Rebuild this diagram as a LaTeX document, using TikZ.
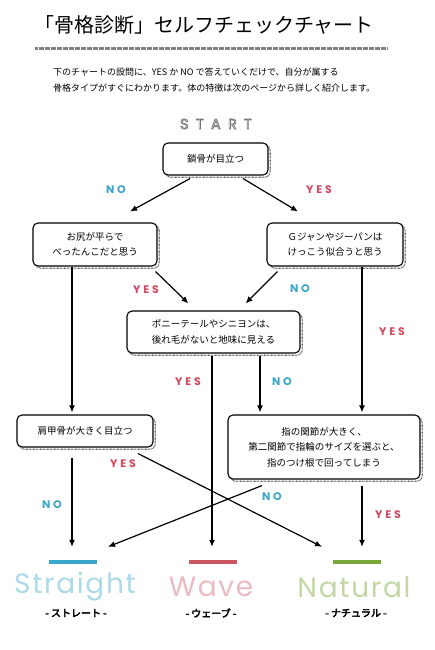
\documentclass[tikz,border=0pt]{standalone}
\usepackage{fontspec}
\setmainfont{Noto Sans CJK JP}
\newfontfamily\jpb{Noto Sans CJK JP}[FakeBold=4]
\newfontfamily\labf{Poppins}[LetterSpace=25]
\newfontfamily\startf{Poppins}[LetterSpace=50]
\newfontfamily\resf{Poppins}[LetterSpace=6]
\usetikzlibrary{arrows.meta,calc,shadows}
\definecolor{noblue}{HTML}{3AA5C5}
\definecolor{yesred}{HTML}{D04A5E}
\definecolor{barblue}{HTML}{3AA6C9}
\definecolor{barred}{HTML}{CC5563}
\definecolor{bargreen}{HTML}{79A638}
\newcommand\hollowtext[1]{\special{pdf:literal direct 1 Tr 0.7 w 0.45 G}#1\special{pdf:literal direct 0 Tr}}
\tikzset{
  qbox/.style={draw=black, line width=1.1pt, rounded corners=5pt, fill=white,
    align=center, inner sep=0pt, font=\fontsize{9.5}{15.5}\selectfont,
    general shadow={shadow xshift=2.2pt, shadow yshift=-2.2pt, draw=black!65,
      line width=1.1pt, dash pattern=on 0.7pt off 0.7pt}},
  arr/.style={draw=black, line width=1.2pt, -{Latex[length=7pt,width=6pt]}},
  nolab/.style={text=noblue, font=\labf\bfseries\fontsize{11}{11}\selectfont, inner sep=0pt},
  yeslab/.style={text=yesred, font=\labf\bfseries\fontsize{11}{11}\selectfont, inner sep=0pt},
  resbar/.style={minimum width=48pt, minimum height=4pt, inner sep=0pt},
  restxt/.style={font=\resf\fontsize{28}{28}\selectfont, inner sep=0pt},
  resjp/.style={font=\jpb\fontsize{10}{10}\selectfont, inner sep=0pt},
  startstyle/.style={font=\startf\fontsize{14.5}{14.5}\selectfont, inner sep=0pt},
}
\begin{document}
\begin{tikzpicture}[x=1pt,y=-1pt]
\fill[white] (0,0) rectangle (435,650);
\useasboundingbox (0,0) rectangle (435,650);

% title
\node[font=\fontsize{20}{20}\selectfont, inner sep=0pt] (title) at (204,25) {「骨格診断」セルフチェックチャート};
\draw[black!50, line width=3pt, dash pattern=on 0.6pt off 0.6pt] (35,49) -- (387,49);
\node[anchor=west, align=left, inner sep=0pt, font=\fontsize{9}{16}\selectfont] (intro) at (53,80)
  {下のチャートの設問に、YES か NO で答えていくだけで、自分が属する\\骨格タイプがすぐにわかります。体の特徴は次のページから詳しく紹介します。};

% START (outlined)
\node[startstyle, text=white] (start) at (216,124) {\hollowtext{START}};

% question boxes
\node[qbox, minimum width=105pt, minimum height=32pt] (q1) at (215.5,159) {鎖骨が目立つ};
\node[qbox, minimum width=124pt, minimum height=43pt] (q2) at (95,244.5) {お尻が平らで\\べったんこだと思う};
\node[qbox, minimum width=136pt, minimum height=43pt] (q3) at (335,244.5) {Ｇジャンやジーパンは\\けっこう似合うと思う};
\node[qbox, minimum width=173pt, minimum height=42pt] (q4) at (213.5,332) {ポニーテールやシニヨンは、\\後れ毛がないと地味に見える};
\node[qbox, minimum width=136pt, minimum height=32pt] (q5) at (85,431) {肩甲骨が大きく目立つ};
\node[qbox, minimum width=192pt, minimum height=64pt] (q6) at (324,447) {指の関節が大きく、\\第二関節で指輪のサイズを選ぶと、\\指のつけ根で回ってしまう};

% result bars
\node[resbar, fill=barblue] (bs) at (73,562) {};
\node[resbar, fill=barred] (bw) at (213,562) {};
\node[resbar, fill=bargreen] (bn) at (356.5,562) {};

\node[restxt, text=barblue!42] (ts) at (75,587) {Straight};
\node[restxt, text=barred!40] (tw) at (211,587) {Wave};
\node[restxt, text=bargreen!45] (tn) at (354,587) {Natural};
\node[resjp] (js) at (76,613) {- ストレート -};
\node[resjp] (jw) at (211,613) {- ウェーブ -};
\node[resjp] (jn) at (356,613) {- ナチュラル -};

% connectors
\draw[arr] ([xshift=-25.5pt,yshift=-3pt]q1.south) -- ([xshift=35pt,yshift=11pt]q2.north);
\draw[arr] ([xshift=27.5pt,yshift=-3pt]q1.south) -- ([xshift=-37pt,yshift=11pt]q3.north);
\draw[arr] ([xshift=-2pt,yshift=-5pt]q2.south east) -- ([xshift=62pt,yshift=7pt]q4.north west);
\draw[arr] ([xshift=11pt,yshift=-5pt]q3.south west) -- ([xshift=-55pt,yshift=7pt]q4.north east);
\draw[arr] ([xshift=-23pt]q2.south) -- ([xshift=-13pt,yshift=2pt]q5.north);
\draw[arr] ([xshift=27pt]q3.south) -- ([xshift=38pt,yshift=2pt]q6.north);
\draw[arr] ([xshift=-1.5pt,yshift=-2pt]q4.south) -- ([xshift=-1pt,yshift=13pt]bw.north);
\draw[arr] ([xshift=46.5pt,yshift=-2pt]q4.south) -- ([xshift=-64pt,yshift=2pt]q6.north);
\draw[arr] ([xshift=-13pt,yshift=-10pt]q5.south) -- ([xshift=-1pt,yshift=13pt]bs.north);
\draw[arr] ([xshift=53pt,yshift=-6pt]q5.south) -- ([xshift=-34.5pt,yshift=13pt]bn.north);
\draw[arr] ([xshift=-62pt,yshift=-6pt]q6.south) -- ([xshift=35pt,yshift=13pt]bs.north);
\draw[arr] ([xshift=38pt,yshift=-6pt]q6.south) -- ([xshift=5.5pt,yshift=13pt]bn.north);

% answer labels
\node[nolab] (n1) at (116,190) {NO};
\node[yeslab] (y1) at (319,190) {YES};
\node[yeslab] (y2) at (146,290) {YES};
\node[nolab] (n2) at (300,289) {NO};
\node[yeslab] (y3) at (392,332) {YES};
\node[yeslab] (y4) at (188,382) {YES};
\node[nolab] (n3) at (282,382) {NO};
\node[yeslab] (y5) at (123,464) {YES};
\node[nolab] (n4) at (52,505) {NO};
\node[nolab] (n5) at (272,497) {NO};
\node[yeslab] (y6) at (388,515) {YES};
\end{tikzpicture}
\end{document}
